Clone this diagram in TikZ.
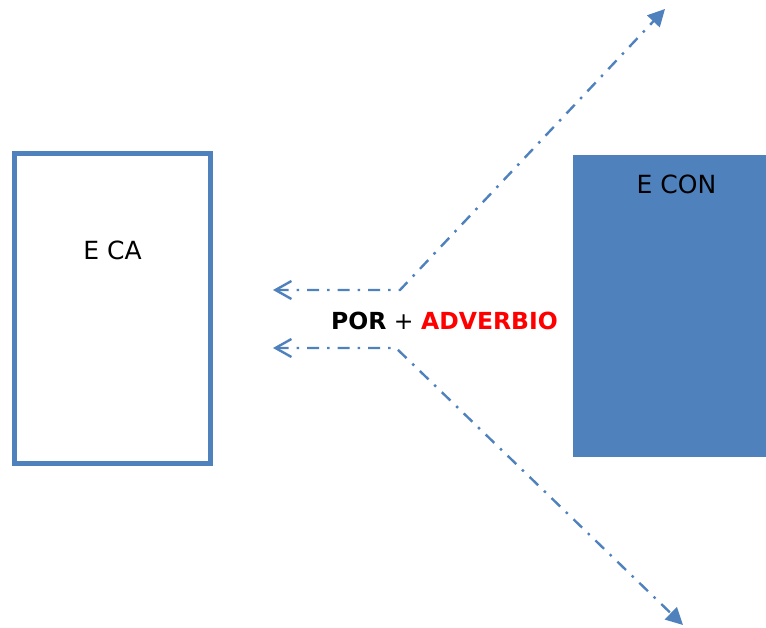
\documentclass[tikz,border=0pt]{standalone}
\usepackage{fontspec}
\setmainfont{DejaVu Sans}
\usetikzlibrary{arrows.meta}
\definecolor{steel}{HTML}{4F81BD}
\definecolor{hotred}{HTML}{FF0000}
\tikzset{
  lbl/.style={inner sep=0pt, font=\fontsize{25}{30}\selectfont, text=black},
  conn/.style={draw=steel, line width=2.4pt,
    dash pattern=on 12pt off 8pt on 2.5pt off 8pt,
    arrows={Straight Barb[length=16pt,width=18pt,line width=2.4pt]-Triangle[length=17pt,width=17pt]}},
}
\begin{document}
\begin{tikzpicture}[x=1pt,y=-1pt]
  \useasboundingbox (0,0) rectangle (766,628);

  % outlined box on the left
  \node (eca) [draw=steel, line width=5pt, fill=white, inner sep=0pt,
    minimum width=196pt, minimum height=310pt] at (112.5,308.5) {};
  \node (ecatext) [lbl] at (112.5,250) {E CA};

  % filled box on the right, running off the edge
  \fill[steel] (573,155) rectangle (766,457);
  \node (econ) [lbl] at (676.5,184) {E CON};

  % central label
  \node (mid) [inner sep=0pt, font=\fontsize{23.5}{28}\selectfont] at (444.5,320.5)
    {\textbf{POR} + \textcolor{hotred}{\textbf{ADVERBIO}}};

  % connector end points
  \coordinate (upL) at (273,290);
  \coordinate (upK) at (400,290);
  \coordinate (upR) at (665,9);
  \coordinate (loL) at (273,348);
  \coordinate (loK) at (396,348);
  \coordinate (loR) at (683,625);

  \draw[conn] (upL) -- (upK) -- (upR);
  \draw[conn] (loL) -- (loK) -- (loR);
\end{tikzpicture}
\end{document}
